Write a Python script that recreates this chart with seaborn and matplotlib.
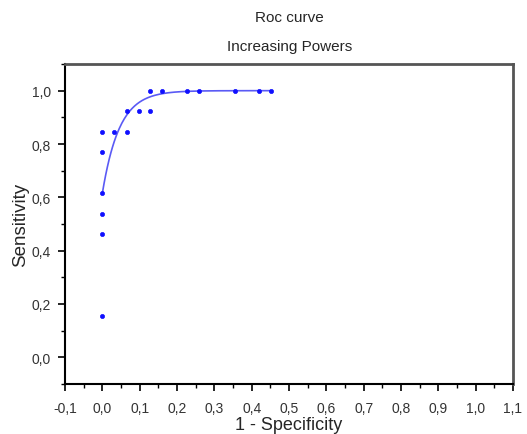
import numpy as np
import pandas as pd
import matplotlib.pyplot as plt
import seaborn as sns
from matplotlib.ticker import MultipleLocator, FuncFormatter

# ROC points
fpr = [0.0, 0.0, 0.0, 0.0, 0.0, 0.0, 0.032, 0.065, 0.065, 0.097, 0.129, 0.129,
       0.161, 0.226, 0.258, 0.355, 0.419, 0.452]
tpr = [0.154, 0.462, 0.538, 0.615, 0.769, 0.846, 0.846, 0.846, 0.923, 0.923, 0.923, 1.0,
       1.0, 1.0, 1.0, 1.0, 1.0, 1.0]

# fitted curve y = 1 - a*exp(-b*x), parameters estimated from the drawn line
fit_a = 0.385
fit_b = 22.0

pts = pd.DataFrame({"fpr": fpr, "tpr": tpr})
xs = np.linspace(0, max(fpr), 200)
curve = pd.DataFrame({"fpr": xs, "tpr": 1 - fit_a * np.exp(-fit_b * xs)})

sns.set_style("white")
plt.rcParams["font.family"] = ["Liberation Sans", "DejaVu Sans"]

fig = plt.figure(figsize=(5.27, 4.35), dpi=100)
ax = fig.add_axes([65 / 527, 50 / 435, 448 / 527, 320 / 435])

sns.lineplot(data=curve, x="fpr", y="tpr", color="#5a5af5", linewidth=1.2, ax=ax)
sns.scatterplot(data=pts, x="fpr", y="tpr", color="#1010ff", marker="o", s=9,
                edgecolor="#1010ff", linewidth=0.5, ax=ax, zorder=3)

ax.set_xlim(-0.1, 1.1)
ax.set_ylim(-0.1, 1.1)
ax.xaxis.set_major_locator(MultipleLocator(0.1))
ax.xaxis.set_minor_locator(MultipleLocator(0.05))
ax.yaxis.set_major_locator(MultipleLocator(0.2))
ax.yaxis.set_minor_locator(MultipleLocator(0.1))
comma = FuncFormatter(lambda v, p: f"{v:.1f}".replace(".", ",").replace("-0,0", "0,0"))
ax.xaxis.set_major_formatter(comma)
ax.yaxis.set_major_formatter(comma)
ax.tick_params(which="major", direction="out", length=5, width=1.2, colors="black",
               labelsize=10, labelcolor="#333333", pad=7)
ax.tick_params(axis="y", which="major", pad=5)
ax.tick_params(which="minor", direction="out", length=3, width=1.0, colors="black")
ax.tick_params(axis="x", which="both", bottom=True, top=False)
ax.tick_params(axis="y", which="both", left=True, right=False)

for side in ["left", "bottom"]:
    ax.spines[side].set_color("black")
    ax.spines[side].set_linewidth(1.5)
for side in ["top", "right"]:
    ax.spines[side].set_color("#555555")
    ax.spines[side].set_linewidth(2)

ax.set_xlabel("1 - Specificity", fontsize=13, labelpad=1)
ax.set_ylabel("Sensitivity", fontsize=13.5, labelpad=2)
fig.text(0.549, 1 - 18 / 435, "Roc curve", ha="center", va="center", fontsize=11)
fig.text(0.549, 1 - 47 / 435, "Increasing Powers", ha="center", va="center", fontsize=11)

fig.savefig("out.png", dpi=100)
